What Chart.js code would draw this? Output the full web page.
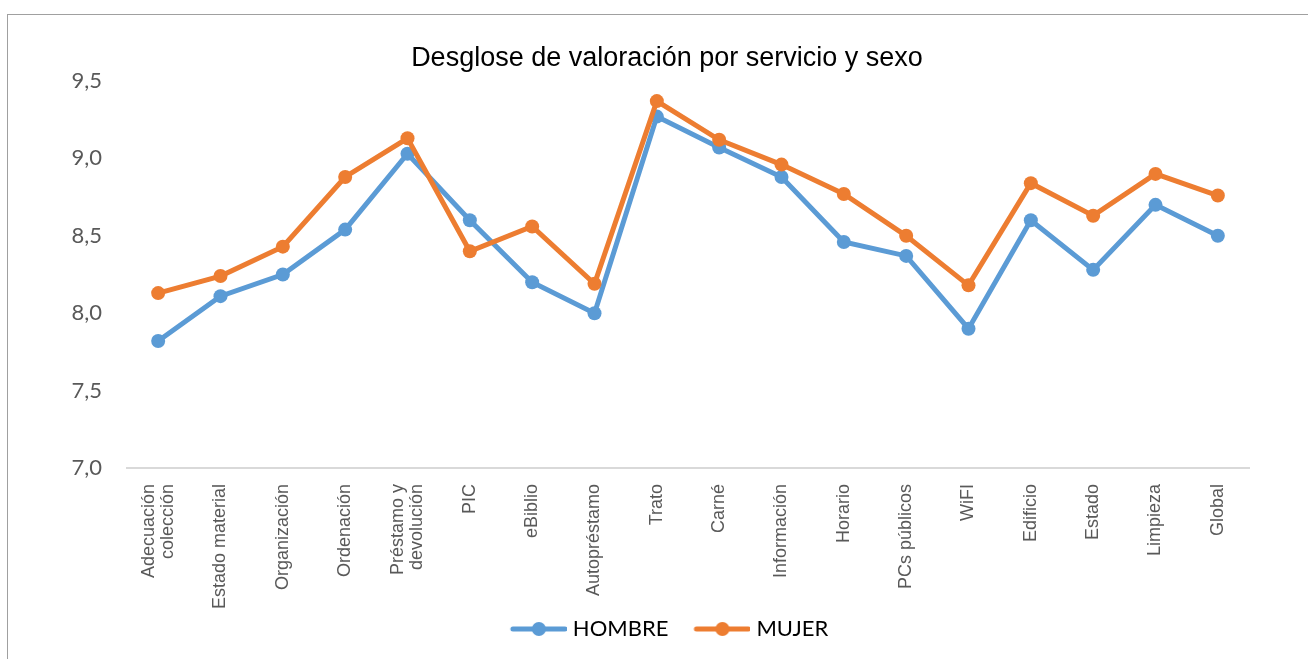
<!DOCTYPE html>
<html>
<head>
<meta charset="utf-8">
<script src="https://cdn.jsdelivr.net/npm/chart.js@4"></script>
<style>
html,body{margin:0;padding:0;background:#fff;overflow:hidden;width:1308px;height:659px;}
#frame{position:absolute;left:7px;top:14px;width:1400px;height:700px;border:1px solid #a0a0a0;box-sizing:border-box;}
#c{position:absolute;left:0;top:0;}
</style>
</head>
<body>
<div id="frame"></div>
<canvas id="c" width="1308" height="659"></canvas>
<script>
const categories = [
  ["Adecuación","colección"], "Estado material", "Organización", "Ordenación",
  ["Préstamo y","devolución"], "PIC", "eBiblio", "Autopréstamo", "Trato", "Carné",
  "Información", "Horario", "PCs públicos", "WiFI", "Edificio", "Estado", "Limpieza", "Global"
];
const hombre = [7.82, 8.11, 8.25, 8.54, 9.03, 8.60, 8.20, 8.00, 9.27, 9.07, 8.88, 8.46, 8.37, 7.90, 8.60, 8.28, 8.70, 8.50];
const mujer  = [8.13, 8.24, 8.43, 8.88, 9.13, 8.40, 8.56, 8.19, 9.37, 9.12, 8.96, 8.77, 8.50, 8.18, 8.84, 8.63, 8.90, 8.76];
const yTicks = [7.0, 7.5, 8.0, 8.5, 9.0, 9.5];

const BLUE = '#5B9BD5', ORANGE = '#ED7D31';

function legendIcon(color){
  const cv = document.createElement('canvas');
  cv.width = 66; cv.height = 16;
  const g = cv.getContext('2d');
  g.strokeStyle = color; g.lineWidth = 5; g.lineCap = 'round';
  g.beginPath(); g.moveTo(12, 8); g.lineTo(64, 8); g.stroke();
  g.fillStyle = color;
  g.beginPath(); g.arc(38, 8, 7, 0, Math.PI*2); g.fill();
  return cv;
}
const icons = [legendIcon(BLUE), legendIcon(ORANGE)];

const centerMultiline = {
  id:'centerMultiline',
  beforeDraw(chart){
    const s = chart.scales.x;
    s._computeLabelArea = () => undefined;
    const items = s.getLabelItems();
    items.forEach(it => {
      if (Array.isArray(it.label) && !it._adj) {
        const lh = it.font.lineHeight;
        it.textOffset -= (it.label.length - 1) * lh / 2;
        it._adj = true;
      }
    });
  }
};

new Chart(document.getElementById('c'), {
  type: 'line',
  data: {
    labels: categories,
    datasets: [
      {label:'HOMBRE', data:hombre, borderColor:BLUE, backgroundColor:BLUE, pointBackgroundColor:BLUE,
       borderWidth:5, pointRadius:7, pointBorderWidth:0, tension:0, order:1},
      {label:'MUJER', data:mujer, borderColor:ORANGE, backgroundColor:ORANGE, pointBackgroundColor:ORANGE,
       borderWidth:5, pointRadius:7, pointBorderWidth:0, tension:0, order:0}
    ]
  },
  plugins:[centerMultiline],
  options: {
    responsive:false,
    animation:false,
    devicePixelRatio:1,
    layout:{padding:{left:26, right:0, top:0, bottom:9}},
    plugins:{
      title:{display:true, text:'Desglose de valoración por servicio y sexo',
        color:'#000', font:{family:'"Liberation Sans Narrow", "Arial Narrow", "Liberation Sans", Arial', size:27, weight:'normal', lineHeight:1.2},
        padding:{top:42, bottom:6.6}},
      legend:{display:true, position:'bottom',
        labels:{usePointStyle:true, pointStyleWidth:56, color:'#000', padding:21,
          font:{family:'Lato, "Noto Sans", sans-serif', size:22},
          generateLabels(chart){
            return chart.data.datasets.map((ds,i)=>({
              text: ds.label, pointStyle: icons[i], fillStyle: ds.borderColor,
              strokeStyle: ds.borderColor, lineWidth:0, hidden:false, datasetIndex:i, fontColor:'#000'
            }));
          }
        }},
      tooltip:{enabled:false}
    },
    scales:{
      x:{
        offset:true,
        grid:{display:false, drawTicks:false},
        border:{display:true, color:'#d9d9d9', width:2},
        ticks:{color:'#595959', minRotation:90, maxRotation:90, padding:16, autoSkip:false,
          font:{family:'"Liberation Sans", Arial, sans-serif', size:18, lineHeight:1.05}},
        afterFit(s){ s.height = 129; }
      },
      y:{
        min:7, max:9.5,
        grid:{display:false, drawTicks:false},
        border:{display:false},
        afterBuildTicks(s){ s.ticks = yTicks.map(v=>({value:v})); },
        ticks:{color:'#595959', padding:25,
          font:{family:'Lato, "Noto Sans", sans-serif', size:22},
          callback:(v)=>Number(v).toFixed(1).replace('.',',')},
        afterFit(s){ s.width = 101; }
      },
      y2:{
        position:'right', display:true,
        grid:{display:false, drawTicks:false},
        border:{display:false},
        ticks:{display:false},
        afterFit(s){ s.width = 59; }
      }
    }
  }
});
</script>
</body>
</html>
